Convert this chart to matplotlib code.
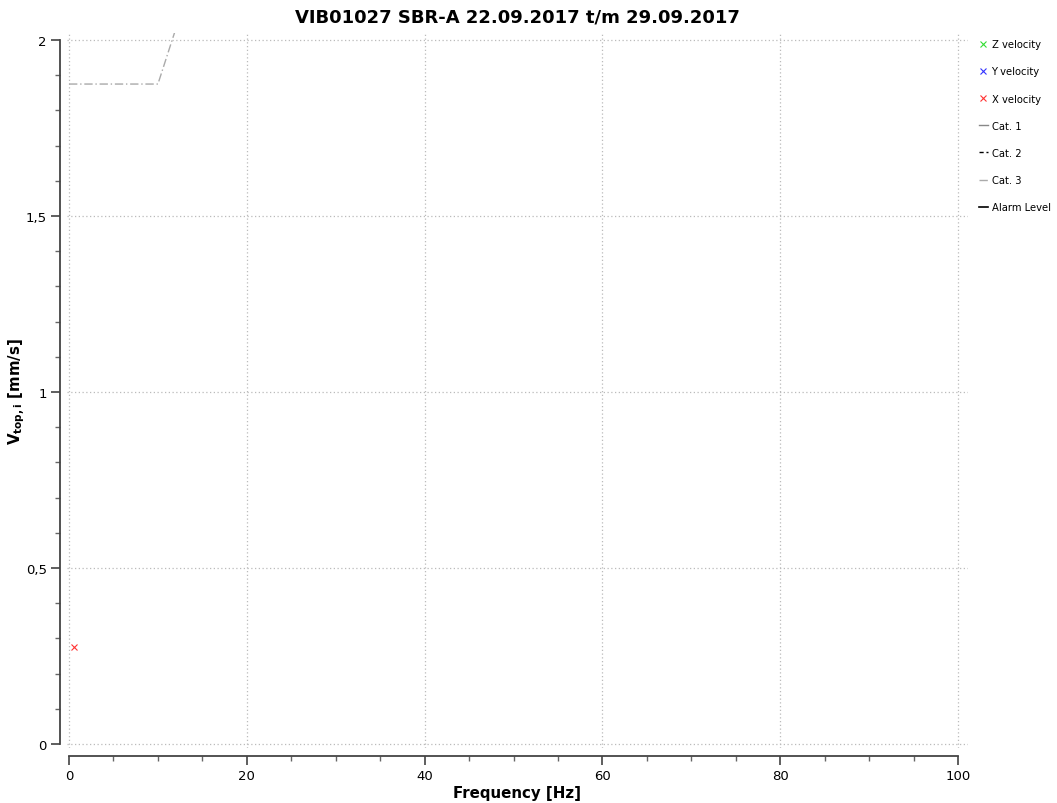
import matplotlib
matplotlib.use("Agg")
import matplotlib.pyplot as plt
from matplotlib.ticker import MultipleLocator, FuncFormatter

# measured peak velocities per direction (frequency [Hz], v_top,i [mm/s])
z_freq, z_vel = [], []
y_freq, y_vel = [], []
x_freq, x_vel = [0.55], [0.276]

# SBR-A guideline lines (frequency [Hz] -> v_top,i [mm/s])
cat_freq = [0, 10, 50, 100]
cat1_vel = [12.5, 12.5, 25.0, 31.25]
cat2_vel = [3.125, 3.125, 9.375, 12.5]
cat3_vel = [1.875, 1.875, 5.0, 6.25]
alarm_freq, alarm_vel = [], []

title = "VIB01027 SBR-A 22.09.2017 t/m 29.09.2017"


def comma_fmt(v, pos):
    s = f"{v:g}"
    return s.replace(".", ",")


fig = plt.figure(figsize=(10.57, 8.04), dpi=100)
ax = fig.add_axes([0.0632, 0.069, 0.8524, 0.8887])

ax.plot(z_freq, z_vel, ls="none", marker="x", ms=5, mew=0.8, color="#33dd33", label="Z velocity")
ax.plot(y_freq, y_vel, ls="none", marker="x", ms=5, mew=0.8, color="#3333ff", label="Y velocity")
ax.plot(x_freq, x_vel, ls="none", marker="x", ms=5, mew=0.8, color="#ff3333", label="X velocity", zorder=5)
ax.plot(cat_freq, cat1_vel, color="#888888", lw=1, label="Cat. 1")
ax.plot(cat_freq, cat2_vel, color="black", lw=1, dashes=(3, 2), label="Cat. 2")
ax.plot(cat_freq, cat3_vel, color="#aaaaaa", lw=1, dashes=(6, 2, 1, 2), label="Cat. 3")
ax.plot(alarm_freq, alarm_vel, color="black", lw=1.2, label="Alarm Level")

ax.set_xlim(-0.25, 101.1)
ax.set_ylim(-0.01, 2.02)

ax.xaxis.set_major_locator(MultipleLocator(20))
ax.xaxis.set_minor_locator(MultipleLocator(5))
ax.yaxis.set_major_locator(MultipleLocator(0.5))
ax.yaxis.set_minor_locator(MultipleLocator(0.1))
ax.yaxis.set_major_formatter(FuncFormatter(comma_fmt))

ax.grid(True, which="major", ls=(0, (1, 2)), color="#bbbbbb", lw=0.9)

for side in ("top", "right"):
    ax.spines[side].set_visible(False)
ax.spines["left"].set_position(("outward", 5))
ax.spines["left"].set_bounds(0, 2)
ax.spines["bottom"].set_position(("outward", 6))
ax.spines["bottom"].set_bounds(0, 100)
for side in ("left", "bottom"):
    ax.spines[side].set_color("#444444")
    ax.spines[side].set_linewidth(1.3)

ax.tick_params(which="major", length=6.5, width=1.1, color="#333333", labelsize=9.5, pad=3)
ax.tick_params(which="minor", length=3.5, width=1.0, color="#666666")

ax.set_xlabel("Frequency [Hz]", fontsize=10.8, fontweight="bold", labelpad=2)
ax.set_ylabel(r"V$_{\mathbf{top,i}}$ [mm/s]", fontsize=10.8, fontweight="bold")
ax.yaxis.set_label_coords(-0.044, 0.5)
ax.set_title(title, fontsize=13, fontweight="bold", pad=8)

ax.legend(loc="upper left", bbox_to_anchor=(0.922, 0.955), bbox_transform=fig.transFigure,
          frameon=False, fontsize=7.2, numpoints=1, handlelength=0.9, handletextpad=0.4,
          labelspacing=1.72, borderaxespad=0)

fig.savefig("out.png", dpi=100)
